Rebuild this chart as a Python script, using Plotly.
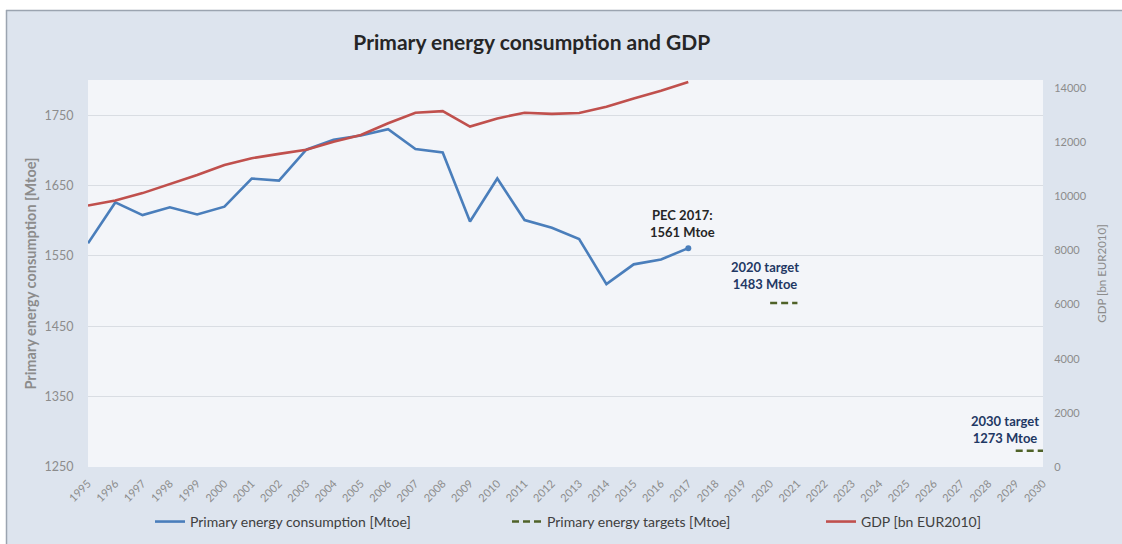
import plotly.graph_objects as go

years = list(range(1995, 2031))
pec_years = list(range(1995, 2018))
pec_values = [1568, 1626, 1608, 1619, 1609, 1620, 1660, 1657, 1701, 1715, 1721,
              1730, 1702, 1697, 1599, 1660, 1601, 1590, 1574, 1510, 1538, 1545, 1561]
gdp_values = [9660, 9850, 10120, 10450, 10790, 11160, 11410, 11570, 11720, 12020, 12270,
              12700, 13090, 13150, 12580, 12880, 13090, 13050, 13080, 13310, 13620, 13900, 14230]
target_years = [2020, 2021, None, 2029, 2030]
target_values = [1483, 1483, None, 1273, 1273]
x_tick_labels = [str(y) for y in years]

FONT = "Lato"
GRAY = "#8c8c8c"
BG = "#dde4ee"

# plot-area pixel geometry (used only for decorative frame in paper coords)
L, R, T, B, W, H = 88, 1043, 80, 467, 1122, 544
def px(x):
    return (x - L) / (R - L)
def py(y):
    return (B - y) / (B - T)

fig = go.Figure()

fig.add_trace(go.Scatter(
    x=pec_years, y=pec_values, mode="lines",
    name="Primary energy consumption [Mtoe]",
    line=dict(color="#4a7ebb", width=2.6),
    legend="legend", yaxis="y"))
fig.add_trace(go.Scatter(
    x=pec_years[-1:], y=pec_values[-1:], mode="markers", showlegend=False,
    marker=dict(size=6, color="#4a7ebb"), yaxis="y"))

fig.add_trace(go.Scatter(
    x=target_years, y=target_values, mode="lines",
    name="Primary energy targets [Mtoe]",
    line=dict(color="#4f6228", width=2.6, dash="7px,4px"),
    connectgaps=False, legend="legend2", yaxis="y"))

fig.add_trace(go.Scatter(
    x=pec_years, y=gdp_values, mode="lines",
    name="GDP [bn EUR2010]",
    line=dict(color="#c0504d", width=2.6),
    legend="legend3", yaxis="y2"))

# annotations tied to data points
fig.add_annotation(x=pec_years[-1], y=pec_values[-1], xref="x", yref="y",
                   text="<b>PEC 2017:<br>1561 Mtoe</b>", showarrow=False,
                   xanchor="center", yanchor="bottom", xshift=-6, yshift=6,
                   font=dict(family=FONT, size=13, color="#262626"))
fig.add_annotation(x=target_years[0], y=target_values[0], xref="x", yref="y",
                   text="<b>2020 target<br>1483 Mtoe</b>", showarrow=False,
                   xanchor="center", yanchor="bottom", xshift=-5, yshift=9,
                   font=dict(family=FONT, size=13, color="#1f3864"))
fig.add_annotation(x=target_years[-1], y=target_values[-1], xref="x", yref="y",
                   text="<b>2030 target<br>1273 Mtoe</b>", showarrow=False,
                   xanchor="right", yanchor="bottom", xshift=-2, yshift=3,
                   font=dict(family=FONT, size=13, color="#1f3864"))

# decorative outer frame (white strip + gray border at top/left)
fig.add_shape(type="rect", xref="paper", yref="paper", layer="above",
              x0=px(0), x1=px(6), y0=py(H), y1=py(0), fillcolor="white", line_width=0)
fig.add_shape(type="rect", xref="paper", yref="paper", layer="above",
              x0=px(0), x1=px(W), y0=py(10), y1=py(0), fillcolor="white", line_width=0)
fig.add_shape(type="line", xref="paper", yref="paper", layer="above",
              x0=px(6.5), x1=px(6.5), y0=py(H), y1=py(10), line=dict(color="#9ba4b0", width=1.5))
fig.add_shape(type="line", xref="paper", yref="paper", layer="above",
              x0=px(6), x1=px(W), y0=py(10.5), y1=py(10.5), line=dict(color="#9ba4b0", width=1.5))

legend_common = dict(orientation="h", yanchor="middle", y=-0.142, xanchor="left",
                     bgcolor="rgba(0,0,0,0)", font=dict(family=FONT, size=14, color="#404040"),
                     itemwidth=30)

fig.update_layout(
    width=W, height=H,
    margin=dict(l=L, r=W - R, t=T, b=H - B, autoexpand=False),
    paper_bgcolor=BG,
    plot_bgcolor="#f3f5f9",
    title=dict(text="<b>Primary energy consumption and GDP</b>", x=0.474, xref="container",
               xanchor="center", y=0.921, yref="container", yanchor="middle",
               font=dict(family=FONT, size=21, color="#262626")),
    xaxis=dict(range=[1995, 2030], tickmode="array", tickvals=years, ticktext=x_tick_labels,
               tickangle=-45, showgrid=False, zeroline=False, showline=False,
               tickfont=dict(family=FONT, size=11, color=GRAY),
               ticks="outside", ticklen=5, tickcolor="rgba(0,0,0,0)", automargin=False),
    yaxis=dict(range=[1250, 1800], tickvals=[1250, 1350, 1450, 1550, 1650, 1750],
               showgrid=True, gridcolor="#d9dde3", gridwidth=1, zeroline=False,
               tickfont=dict(family=FONT, size=12.5, color=GRAY),
               ticks="outside", ticklen=11, tickcolor="rgba(0,0,0,0)", automargin=False,
               title=dict(text="<b>Primary energy consumption [Mtoe]</b>", standoff=4,
                          font=dict(family=FONT, size=14.5, color=GRAY))),
    yaxis2=dict(range=[0, 14300], tickvals=list(range(0, 14001, 2000)), overlaying="y",
                side="right", showgrid=False, zeroline=False, tickformat="d",
                tickfont=dict(family=FONT, size=11, color=GRAY),
                ticks="outside", ticklen=8, tickcolor="rgba(0,0,0,0)", automargin=False,
                title=dict(text="GDP [bn EUR2010]", standoff=12,
                           font=dict(family=FONT, size=11.5, color=GRAY))),
    legend=dict(x=px(150), **legend_common),
    legend2=dict(x=px(507), **legend_common),
    legend3=dict(x=px(821), **legend_common),
    showlegend=True,
)

fig.write_html("out.html", config={"displayModeBar": False},
               post_script="document.body.style.margin='0';document.body.style.background='%s';" % BG)
